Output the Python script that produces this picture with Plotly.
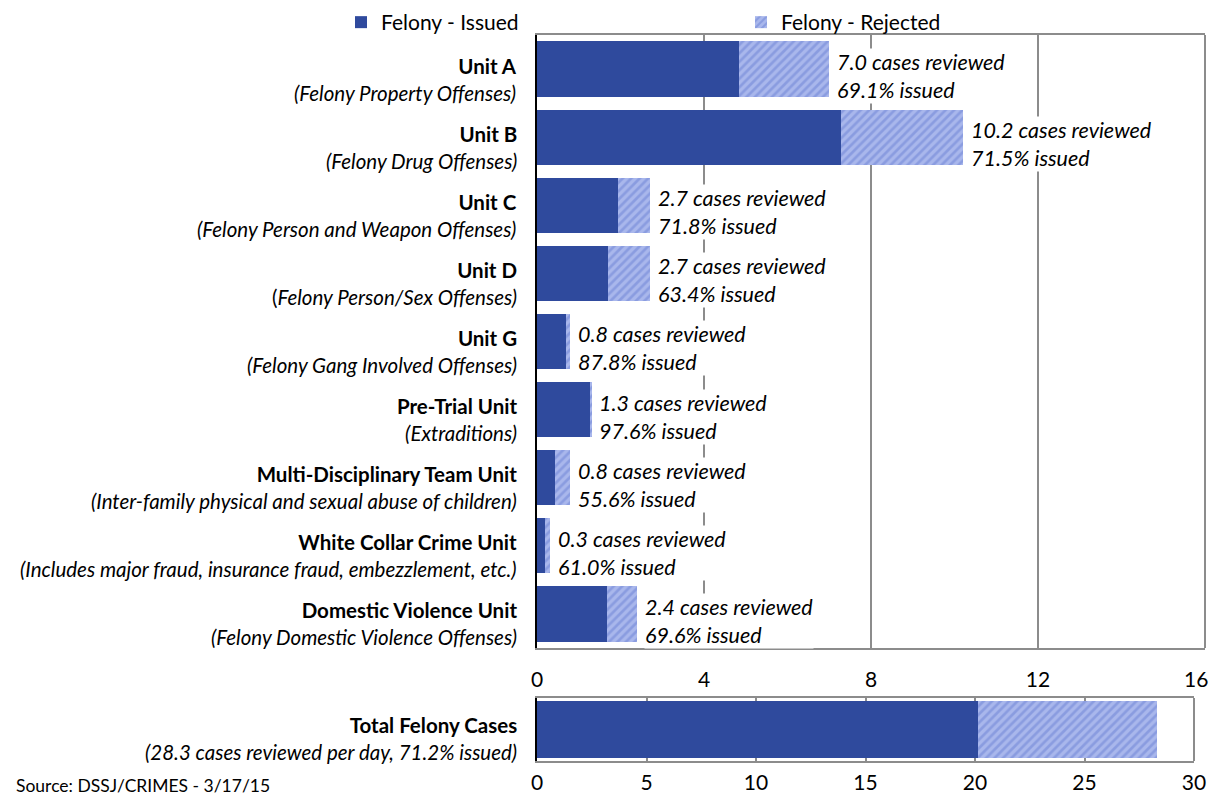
import plotly.graph_objects as go

units = ["Unit A", "Unit B", "Unit C", "Unit D", "Unit G", "Pre-Trial Unit",
         "Multi-Disciplinary Team Unit", "White Collar Crime Unit", "Domestic Violence Unit"]
descriptions = ["<i>(Felony Property Offenses)</i>", "<i>(Felony Drug Offenses)</i>",
                "<i>(Felony Person and Weapon Offenses)</i>", "(<i>Felony Person/Sex Offenses)</i>",
                "<i>(Felony Gang Involved Offenses)</i>", "<i>(Extraditions)</i>",
                "<i>(Inter-family physical and sexual abuse of children)</i>",
                "<i>(Includes major fraud, insurance fraud, embezzlement, etc.)</i>",
                "<i>(Felony Domestic Violence Offenses)</i>"]
reviewed = [7.0, 10.2, 2.7, 2.7, 0.8, 1.3, 0.8, 0.3, 2.4]
pct_issued = [69.1, 71.5, 71.8, 63.4, 87.8, 97.6, 55.6, 61.0, 69.6]
issued = [4.84, 7.29, 1.94, 1.71, 0.70, 1.27, 0.44, 0.18, 1.67]
rejected = [2.16, 2.91, 0.76, 0.99, 0.10, 0.03, 0.36, 0.12, 0.73]

total_label = "Total Felony Cases"
total_reviewed = 28.3
total_pct = 71.2
total_issued = [20.15]
total_rejected = [8.15]

top_ticks = [0, 4, 8, 12, 16]
bottom_ticks = [0, 5, 10, 15, 20, 25, 30]

FONT = "Lato"
C_ISSUED = "#2f4a9d"
C_REJ_BG = "#a9b7ec"
C_REJ_FG = "#6b82d4"
GRID = "#8c8c8c"

# page body adds an 8px margin; size the figure so the page does not scroll
W, H, OFF = 1210, 789, 8


def px(sx):
    return (sx - OFF) / W


def py(sy):
    return 1 - (sy - OFF) / H


rej_marker = dict(color=C_REJ_BG, line=dict(width=0),
                  pattern=dict(shape="/", fgcolor=C_REJ_FG, bgcolor=C_REJ_BG,
                               size=6, solidity=0.45))

fig = go.Figure()
fig.add_trace(go.Bar(y=units, x=issued, orientation="h", name="Felony - Issued",
                     marker=dict(color=C_ISSUED, line=dict(width=0)),
                     xaxis="x", yaxis="y"))
fig.add_trace(go.Bar(y=units, x=rejected, orientation="h", name="Felony - Rejected",
                     marker=rej_marker, xaxis="x", yaxis="y"))
fig.add_trace(go.Bar(y=[total_label], x=total_issued, orientation="h", showlegend=False,
                     marker=dict(color=C_ISSUED, line=dict(width=0)),
                     xaxis="x2", yaxis="y2", width=0.9))
fig.add_trace(go.Bar(y=[total_label], x=total_rejected, orientation="h", showlegend=False,
                     marker=rej_marker, xaxis="x2", yaxis="y2", width=0.9))

LX = px(519)
annotations = []
for u, d, r, p in zip(units, descriptions, reviewed, pct_issued):
    annotations.append(dict(xref="paper", yref="y", x=LX, y=u, xanchor="right",
                            yanchor="middle", align="right", showarrow=False, yshift=-10,
                            text=f"<b>{u}</b><br>{d}",
                            font=dict(family=FONT, size=20.5, color="#000")))
    annotations.append(dict(xref="x", yref="y", x=r, y=u, xanchor="left", yanchor="middle",
                            align="left", showarrow=False, xshift=7, yshift=-7,
                            bgcolor="white", borderpad=0,
                            text=f"<i>{r:.1f} cases reviewed<br>{p:.1f}% issued</i>",
                            font=dict(family=FONT, size=21.5, color="#000")))
annotations.append(dict(xref="paper", yref="y2", x=LX, y=total_label, xanchor="right",
                        yanchor="middle", align="right", showarrow=False, yshift=-9,
                        text=f"<b>{total_label}</b><br><i>({total_reviewed:.1f} cases reviewed per day, {total_pct:.1f}% issued)</i>",
                        font=dict(family=FONT, size=20.5, color="#000")))
annotations.append(dict(xref="paper", yref="paper", x=px(14), y=py(785), xanchor="left",
                        yanchor="middle", showarrow=False, text="Source: DSSJ/CRIMES - 3/17/15",
                        font=dict(family=FONT, size=17.5, color="#000")))
# last top-axis tick label, kept inside the visible page edge
annotations.append(dict(xref="x", yref="y domain", x=top_ticks[-1], y=0, xanchor="right",
                        yanchor="middle", showarrow=False, xshift=5, yshift=-30,
                        text=str(top_ticks[-1]), font=dict(family=FONT, size=21, color="#000")))

shapes = [
    dict(type="line", xref="x domain", yref="y domain", x0=1, x1=1, y0=0, y1=1,
         line=dict(color=GRID, width=2)),
    dict(type="line", xref="x2 domain", yref="y2 domain", x0=1, x1=1, y0=0, y1=1,
         line=dict(color=GRID, width=2)),
]

fig.update_layout(
    width=W, height=H,
    margin=dict(l=0, r=0, t=0, b=0, autoexpand=False),
    paper_bgcolor="white", plot_bgcolor="white",
    barmode="stack", bargap=0.19,
    font=dict(family=FONT, size=21, color="#000"),
    legend=dict(orientation="h", x=px(341), y=1 + 6 / H, xanchor="left", yanchor="top",
                entrywidth=355, entrywidthmode="pixels", font=dict(size=21, family=FONT),
                bgcolor="rgba(0,0,0,0)", itemwidth=30, traceorder="normal"),
    xaxis=dict(domain=[px(537), px(1205)], range=[0, 16], tickvals=top_ticks,
               ticktext=[str(t) for t in top_ticks[:-1]] + [""],
               showgrid=True, gridcolor=GRID, gridwidth=2, showline=True, mirror=True,
               linecolor=GRID, linewidth=2, zeroline=False, ticks="", anchor="y",
               ticklabelstandoff=12, tickfont=dict(size=21, family=FONT)),
    yaxis=dict(domain=[py(648), py(35)], type="category",
               categoryorder="array", categoryarray=units, range=[8.5, -0.5],
               showticklabels=False, showgrid=False, showline=True, linecolor="#000",
               linewidth=2, ticks="", anchor="x"),
    xaxis2=dict(domain=[px(537), px(1194)], range=[0, 30], tickvals=bottom_ticks,
                showgrid=True, gridcolor=GRID, gridwidth=2, showline=True, mirror=True,
                linecolor=GRID, linewidth=2, zeroline=False, ticks="", anchor="y2",
                ticklabelstandoff=2, tickfont=dict(size=21, family=FONT)),
    yaxis2=dict(domain=[py(761), py(698)], type="category", range=[-0.5, 0.5],
                showticklabels=False, showgrid=False, showline=True, linecolor="#000",
                linewidth=2, ticks="", anchor="x2"),
    annotations=annotations,
    shapes=shapes,
)

fig.write_html("out.html")
